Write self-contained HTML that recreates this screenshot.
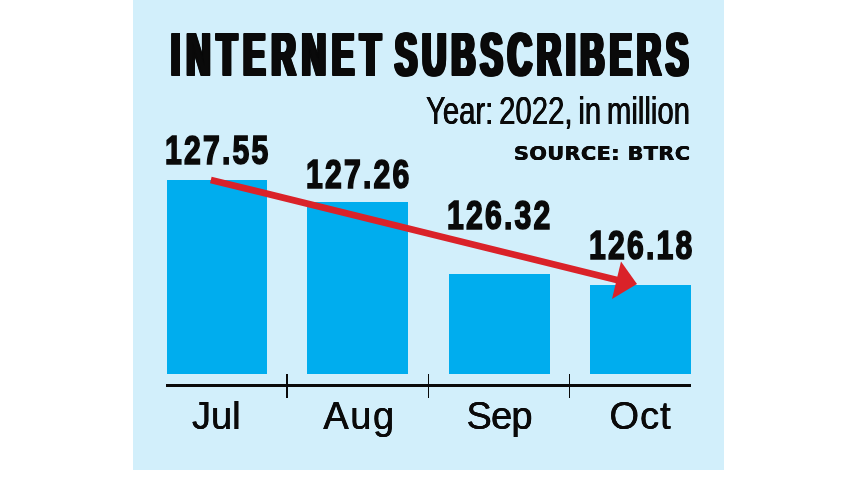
<!DOCTYPE html>
<html><head><meta charset="utf-8"><title>Internet Subscribers</title>
<style>
html,body{margin:0;padding:0;background:#fff;}
body{width:857px;height:482px;position:relative;overflow:hidden;font-family:"Liberation Sans",sans-serif;color:#0a0a0a;}
#panel{position:absolute;left:132.7px;top:0;width:591.3px;height:470.4px;background:#d2effb;}
.bar{position:absolute;background:#00adee;}
.t{position:absolute;white-space:nowrap;line-height:1;transform-origin:0 0;}
.ttl{top:23.7px;font-size:61.3px;font-weight:bold;transform:scaleX(0.5403);text-shadow:1.9px 0.5px 0 #0a0a0a,1.9px -0.5px 0 #0a0a0a,-1.9px 0.5px 0 #0a0a0a,-1.9px -0.5px 0 #0a0a0a,3.8px 0.5px 0 #0a0a0a,3.8px -0.5px 0 #0a0a0a,-3.8px 0.5px 0 #0a0a0a,-3.8px -0.5px 0 #0a0a0a,0px 0.5px 0 #0a0a0a,0px -0.5px 0 #0a0a0a;}
#t1{left:171.3px;letter-spacing:11.65px;}
#t2{left:395.1px;letter-spacing:9.65px;}
#sub{left:426.2px;top:92.4px;font-size:38px;transform:scaleX(0.771);word-spacing:-3px;text-shadow:0.45px 0 0 #0a0a0a,-0.45px 0 0 #0a0a0a;}
#src{left:514px;top:142.5px;font-size:20px;font-weight:bold;font-family:"DejaVu Sans","Liberation Sans",sans-serif;letter-spacing:0.5px;transform:scaleX(1.03);text-shadow:0.4px 0 0 #0a0a0a,-0.4px 0 0 #0a0a0a;}
.val{font-weight:bold;font-size:40px;transform:scaleX(0.755);letter-spacing:2.9px;-webkit-text-stroke:1.7px #0a0a0a;}
.mon{font-size:38px;text-shadow:0.35px 0 0 #0a0a0a,-0.35px 0 0 #0a0a0a;}
#axis{position:absolute;left:166.3px;top:384.4px;width:524.9px;height:3px;background:#0a0a0a;}
.tick{position:absolute;top:373.8px;width:1.5px;height:24.1px;background:#0a0a0a;}
svg{position:absolute;left:0;top:0;}
</style></head><body>
<div id="panel"></div>
<div class="bar" style="left:166.5px;top:180px;width:100px;height:194px"></div>
<div class="bar" style="left:307.2px;top:201.6px;width:100.8px;height:172.4px"></div>
<div class="bar" style="left:449px;top:273.5px;width:100.5px;height:100.5px"></div>
<div class="bar" style="left:590.2px;top:284.8px;width:100.8px;height:89.2px"></div>
<div id="axis"></div>
<div class="tick" style="left:286.4px"></div>
<div class="tick" style="left:427.6px"></div>
<div class="tick" style="left:568.9px"></div>
<div id="title"><span class="t ttl" id="t1">INTERNET</span> <span class="t ttl" id="t2">SUBSCRIBERS</span></div>
<div class="t" id="sub">Year: 2022, in million</div>
<div class="t" id="src">SOURCE: BTRC</div>
<div class="t val" id="v1" style="left:164.5px;top:130px">127.55</div>
<div class="t val" id="v2" style="left:306px;top:154.3px">127.26</div>
<div class="t val" id="v3" style="left:447.3px;top:194.6px">126.32</div>
<div class="t val" id="v4" style="left:589px;top:224.8px">126.18</div>
<div class="t mon" id="m1" style="left:192px;top:396.7px">Jul</div>
<div class="t mon" id="m2" style="left:323.3px;top:396.7px;letter-spacing:1.6px">Aug</div>
<div class="t mon" id="m3" style="left:466.5px;top:396.7px;letter-spacing:-0.8px">Sep</div>
<div class="t mon" id="m4" style="left:609.5px;top:396.7px;letter-spacing:1px">Oct</div>
<svg width="857" height="482" viewBox="0 0 857 482">
<line x1="210.8" y1="179.9" x2="620" y2="280.7" stroke="#da2229" stroke-width="6.7"/>
<polygon points="637,284 612,299 621,261.5" fill="#da2229"/>
</svg>
</body></html>
